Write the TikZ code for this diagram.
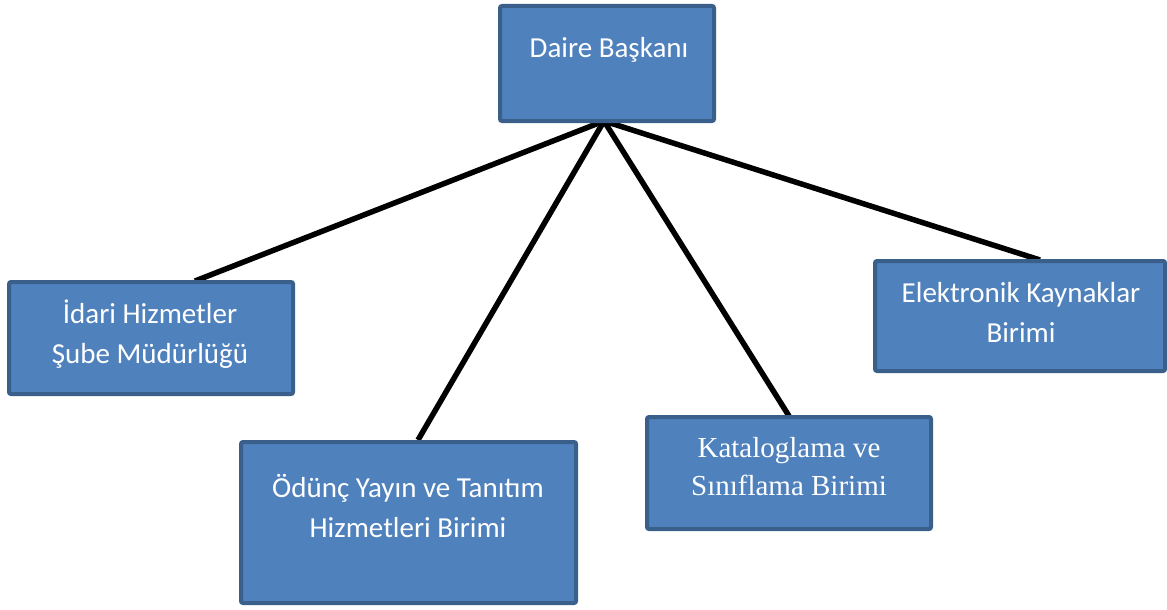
\documentclass[tikz,border=0pt]{standalone}
\usepackage{fontspec}
\usetikzlibrary{backgrounds}
\setmainfont{Carlito}
\newfontfamily\serifface{Liberation Serif}
\definecolor{boxfill}{HTML}{4F81BD}
\definecolor{boxline}{HTML}{3A5F8B}
\begin{document}
\begin{tikzpicture}[x=1pt,y=-1pt,
  orgbox/.style={fill=boxfill,draw=boxline,line width=4pt,rounded corners=2pt,inner sep=0pt},
  lbl/.style={text=white,align=center,anchor=base,inner sep=0pt,font=\fontsize{29}{40}\selectfont},
  slbl/.style={text=white,align=center,anchor=base,inner sep=0pt,font=\serifface\fontsize{29}{38}\selectfont},
  link/.style={line width=5.5pt,black}]
\useasboundingbox (0,0) rectangle (1167,610);
\clip (0,0) rectangle (1167,610);
\coordinate (hub) at (604,121);
\node[orgbox,minimum width=214pt,minimum height=115pt] (dai) at (607,63.5) {};
\node[orgbox,minimum width=284pt,minimum height=112pt] (ida) at (151,338) {};
\node[orgbox,minimum width=335pt,minimum height=161pt] (odu) at (408.5,522.5) {};
\node[orgbox,minimum width=284pt,minimum height=112pt] (kat) at (789,473) {};
\node[orgbox,minimum width=290pt,minimum height=110pt] (ele) at (1020,316) {};
\begin{scope}[on background layer]
\draw[link] (hub) -- ([xshift=44pt,yshift=-1pt]ida.north);
\draw[link] (hub) -- ([xshift=9.5pt]odu.north);
\draw[link] (hub) -- ([yshift=-1pt]kat.north);
\draw[link] (hub) -- ([xshift=20pt,yshift=-1pt]ele.north);
\end{scope}
\node[lbl] (tdai) at (609,58) {Daire Başkanı};
\node[lbl] (tida) at (150,363) {İdari Hizmetler\\Şube Müdürlüğü};
\node[lbl] (todu) at (408,537) {Ödünç Yayın ve Tanıtım\\Hizmetleri Birimi};
\node[slbl] (tkat) at (789,495) {Kataloglama ve\\Sınıflama Birimi};
\node[lbl] (tele) at (1021,342) {Elektronik Kaynaklar\\Birimi};
\end{tikzpicture}
\end{document}
